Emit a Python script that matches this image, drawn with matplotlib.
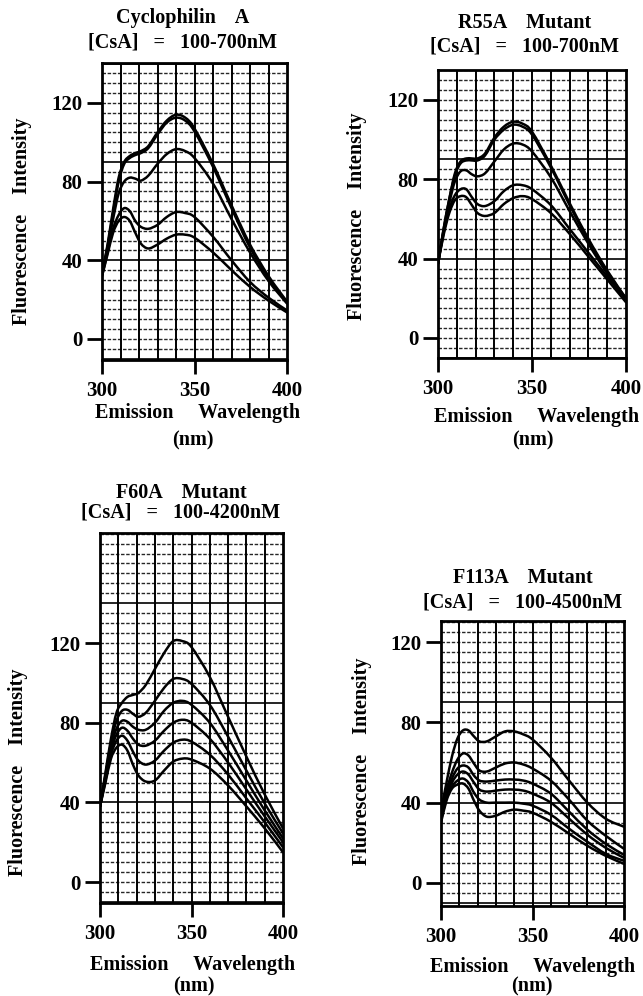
import numpy as np
import matplotlib.pyplot as plt
from matplotlib.path import Path
from matplotlib.patches import PathPatch

plt.rcParams["font.family"] = ["Liberation Serif", "DejaVu Serif"]
plt.rcParams["font.weight"] = "bold"

W, H = 643, 996

# === Data ===
wl = [300, 303, 306, 309, 312, 315, 318, 321, 325, 330, 335, 340, 345, 350, 360, 370, 380, 390, 400]

# Cyclophilin A, [CsA] = 100-700 nM
cypa = [
    [33, 48, 66, 82, 90, 93, 94.5, 95.5, 98, 105, 111, 114, 112.5, 107, 89, 68, 48, 32, 19],
    [33, 47, 64, 80, 89, 92, 93.5, 94.5, 97, 104, 110, 112.5, 111, 105.5, 87.5, 66.5, 46.5, 31, 18.5],
    [33, 46, 61, 74, 80, 82, 81.5, 80.5, 83, 89, 94, 96.5, 95.5, 92, 79, 61, 44, 29.5, 18],
    [32, 44, 56, 63, 66.5, 65, 60, 57, 56, 58, 62, 64.5, 64, 62, 52, 40, 29, 21, 14.5],
    [32, 43, 54, 60, 62, 60, 54, 48.5, 46, 48, 51, 53, 53, 51.5, 44, 35, 26.5, 19.5, 13.5],
]

# R55A mutant, [CsA] = 100-700 nM
r55a = [
    [37.5, 55, 70, 83, 89, 90.5, 90.5, 90.5, 93, 101, 106.5, 109, 108, 104, 87, 68, 50, 34, 20],
    [37.5, 55, 70, 82, 88, 89.5, 89.5, 89.5, 92, 100, 105, 107.5, 106.5, 102.5, 86, 67, 49, 33.5, 19.5],
    [37.5, 54, 68, 79, 84, 84.5, 82.5, 81.5, 83, 89, 95, 98, 97.5, 94, 81, 64, 47.5, 32.5, 20],
    [37.5, 53, 65, 72, 75, 75, 71, 67.5, 66.5, 69, 74, 77, 77, 75, 67, 55, 43, 31, 19.5],
    [37.5, 52, 63, 69.5, 71.5, 71, 67, 63, 61.5, 63, 67.5, 70.5, 71.5, 70, 63, 52.5, 41, 29.5, 18],
]

# F60A mutant, [CsA] = 100-4200 nM
f60a = [
    [38, 55, 72, 85, 90, 93, 94, 95, 99, 107, 115, 121, 121, 118, 103, 83, 63, 44, 27],
    [38, 54, 70, 81, 86, 86.5, 84.5, 83, 85, 91, 97.5, 102, 102, 99.5, 89, 73, 56, 39.5, 24.5],
    [38, 53, 68, 77, 81, 80.5, 78, 76.5, 76.5, 80, 86, 90, 91, 89, 80, 66, 51, 36, 22],
    [38, 52, 66, 74, 77.5, 76, 72, 69, 68.5, 71, 76, 80, 81.5, 80, 72, 60, 46.5, 33, 20],
    [38, 51, 64, 71, 73.5, 71, 65.5, 61, 59, 61, 66, 70, 71.5, 70.5, 64, 54, 42, 30, 17.5],
    [38, 50, 62, 67.5, 69, 66, 59, 53.5, 50.5, 51, 56, 60.5, 62, 61.5, 57, 48.5, 38, 27, 15],
]

# F113A mutant, [CsA] = 100-4500 nM
f113a = [
    [36, 50, 63, 72, 76, 76, 73, 70.5, 70.5, 73, 75.5, 75.5, 74, 71.5, 62.5, 51, 40, 32, 28],
    [34, 46, 55, 61.5, 64.5, 63.5, 59.5, 56, 55.5, 57.5, 59.5, 60, 59, 57, 51, 41.5, 31, 23.5, 17],
    [33, 44, 52, 57, 58.5, 57.5, 53.5, 51, 50.5, 51, 51.5, 51.5, 51, 49.5, 44.5, 35.5, 26.5, 19.5, 14],
    [32, 43, 50, 54, 55.5, 54, 50, 46.5, 45.5, 46, 46.5, 46.5, 46, 44.5, 40, 32, 24, 17.5, 12.5],
    [31, 42, 48, 51, 52, 50, 45, 41.5, 40, 40, 40, 40, 39.5, 38.5, 34, 27, 20.5, 14.5, 11],
    [30, 41, 47, 49, 49.5, 47, 41, 36, 33, 33.5, 35.5, 36.5, 36, 35, 30.5, 24.5, 18.5, 13.5, 9.5],
]

xticks = [300, 350, 400]
yticks = [0, 40, 80, 120]

# panel: curves, box in px [left, top, right, bottom], ylim, title lines, text anchors
panels = [
    dict(curves=cypa, box=(102, 63, 287, 360), ylim=(-10.7, 140.3),
         title=("Cyclophilin    A", "[CsA]   =   100-700nM"), tpos=(183, 18, 43),
         ylab=(22, 221), xlab=(198, 413), nm=(193, 440)),
    dict(curves=r55a, box=(438, 70, 626, 358), ylim=(-10.1, 135.1),
         title=("R55A    Mutant", "[CsA]   =   100-700nM"), tpos=(525, 23, 47),
         ylab=(357, 216), xlab=(537, 417), nm=(533, 440)),
    dict(curves=f60a, box=(100, 533, 283, 903), ylim=(-10.5, 175.3),
         title=("F60A    Mutant", "[CsA]   =   100-4200nM"), tpos=(181, 493, 513),
         ylab=(18, 772), xlab=(193, 965), nm=(194, 986)),
    dict(curves=f113a, box=(441, 621, 624, 906), ylim=(-11.5, 130.5),
         title=("F113A    Mutant", "[CsA]   =   100-4500nM"), tpos=(523, 578, 602),
         ylab=(362, 761), xlab=(533, 967), nm=(532, 986)),
]


def smooth_path(x, y):
    # Catmull-Rom through the read points, drawn as cubic Bezier segments
    x = np.asarray(x, float)
    y = np.asarray(y, float)
    pts = np.column_stack([x, y])
    ext = np.vstack([pts[0], pts, pts[-1]])
    verts = [pts[0]]
    codes = [Path.MOVETO]
    for i in range(len(pts) - 1):
        p0, p1, p2, p3 = ext[i], ext[i + 1], ext[i + 2], ext[i + 3]
        verts += [p1 + (p2 - p0) / 6, p2 - (p3 - p1) / 6, p2]
        codes += [Path.CURVE4] * 3
    return Path(verts, codes)


fig = plt.figure(figsize=(W / 100, H / 100), dpi=100)
fs = 14.5

for p in panels:
    l, t, r, b = p["box"]
    ax = fig.add_axes([l / W, 1 - b / H, (r - l) / W, (b - t) / H])
    ax.set_xlim(300, 400)
    ax.set_ylim(*p["ylim"])

    # graph-paper background
    for x in range(310, 400, 10):
        ax.axvline(x, color="black", lw=1.4, zorder=1)
    y = -10
    while y < p["ylim"][1]:
        if (y + 10) % 50 == 0:
            ax.axhline(y, color="black", lw=1.2, zorder=1)
        else:
            ax.axhline(y, color="black", lw=1.0, ls=(0, (2.5, 1.2)), alpha=0.85, zorder=1)
        y += 5

    for c in p["curves"]:
        ax.add_patch(PathPatch(smooth_path(wl, c), fill=False, edgecolor="black",
                               lw=1.8, zorder=3, capstyle="round", joinstyle="round"))

    for s in ax.spines.values():
        s.set_linewidth(2)
    ax.set_xticks(xticks)
    ax.set_yticks(yticks)
    ax.set_xticklabels([str(v) for v in xticks], fontsize=15, fontweight="bold")
    ax.set_yticklabels([str(v) for v in yticks], fontsize=15, fontweight="bold")
    ax.tick_params(axis="y", direction="out", length=11, width=2, pad=3)
    ax.tick_params(axis="x", direction="out", length=10, width=2, pad=5)

    cx, y1, y2 = p["tpos"]
    fig.text(cx / W, 1 - y1 / H, p["title"][0], ha="center", va="center", fontsize=fs, fontweight="bold")
    fig.text(cx / W, 1 - y2 / H, p["title"][1], ha="center", va="center", fontsize=fs, fontweight="bold")
    fig.text(p["ylab"][0] / W, 1 - p["ylab"][1] / H, "Fluorescence    Intensity",
             rotation=90, ha="center", va="center", fontsize=fs, fontweight="bold")
    fig.text(p["xlab"][0] / W, 1 - p["xlab"][1] / H, "Emission     Wavelength",
             ha="center", va="center", fontsize=fs, fontweight="bold")
    fig.text(p["nm"][0] / W, 1 - p["nm"][1] / H, "(nm)",
             ha="center", va="center", fontsize=fs, fontweight="bold")

fig.savefig("out.png", dpi=100)
plt.close(fig)
